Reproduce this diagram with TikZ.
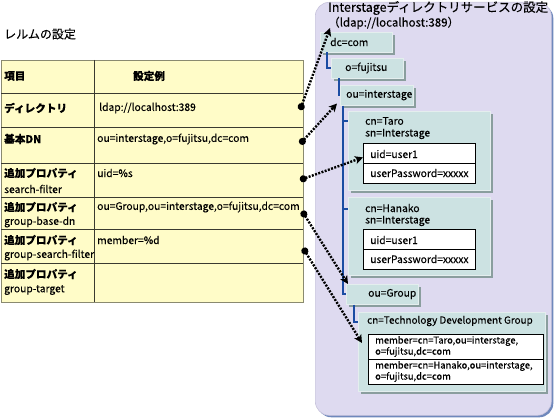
\documentclass[tikz,border=0pt]{standalone}
\usepackage{fontspec}
\setmainfont{Noto Sans CJK JP}[FakeBold=0.25]
\usetikzlibrary{arrows.meta,shadows,calc}
\definecolor{lav}{HTML}{DEDAF0}
\definecolor{lavedge}{HTML}{C8C4DC}
\definecolor{lavshadow}{HTML}{6F88BC}
\definecolor{teal1}{HTML}{CCE2E2}
\definecolor{tealsh}{HTML}{8A9E9E}
\definecolor{tealedge}{HTML}{E4EEEE}
\definecolor{yel}{HTML}{FFFCC8}
\definecolor{tblouter}{HTML}{8A8A70}
\definecolor{tblline}{HTML}{3A3A30}
\definecolor{treeblue}{HTML}{1B4CA3}
\begin{document}
\begin{tikzpicture}[x=1pt,y=-1pt,
  txt/.style={anchor=west,inner sep=0pt,font=\fontsize{10.3}{12}\selectfont},
  stxt/.style={anchor=west,inner sep=0pt,font=\fontsize{9.4}{11}\selectfont},
  btxt/.style={anchor=west,inner sep=0pt,font=\fontsize{10.6}{12}\selectfont\bfseries},
  ttl/.style={anchor=west,inner sep=0pt,font=\fontsize{12.5}{15}\selectfont},
  panel/.style={anchor=north west,inner sep=0pt,fill=lav,draw=lavedge,line width=0.6pt,rounded corners=14pt,
    drop shadow={shadow xshift=2pt,shadow yshift=-2pt,fill=lavshadow,opacity=1}},
  tbox/.style={anchor=north west,inner sep=0pt,fill=teal1,draw=tealedge,line width=0.5pt,
    drop shadow={shadow xshift=2.5pt,shadow yshift=-2.5pt,fill=tealsh,opacity=1}},
  wbox/.style={anchor=north west,inner sep=0pt,fill=white,draw=black,line width=0.8pt},
  tblbox/.style={anchor=north west,inner sep=0pt,fill=yel,draw=tblouter,line width=0.8pt},
  tree/.style={draw=treeblue,line width=2.2pt},
  link/.style={line width=2.4pt,dash pattern=on 2pt off 1.4pt,
    {Circle[length=7pt]}-{Stealth[length=8pt,width=8pt,inset=2pt]}}
]
\useasboundingbox (0,0) rectangle (557,420);

% ---------- left: realm settings ----------
\node[txt,font=\fontsize{12}{14}\selectfont] (realm) at (4,34) {レルムの設定};
\node[tblbox,minimum width=302pt,minimum height=242pt] (tbl) at (1,60) {};
\foreach \yy in {93,127,163,197,229,263}
  \draw[tblline,line width=0.7pt] (1,\yy) -- (303,\yy);
\draw[tblline,line width=0.7pt] (94,60) -- (94,302);

\node[btxt] (h1) at (4,76) {項目};
\node[btxt] (h2) at (133,76) {設定例};
\node[btxt] (r1a) at (4,108) {ディレクトリ};
\node[txt] (r1b) at (99,108) {ldap://localhost:389};
\node[btxt] (r2a) at (4,139) {基本DN};
\node[txt] (r2b) at (97,139) {ou=interstage,o=fujitsu,dc=com};
\node[btxt] (r3a) at (4,173) {追加プロパティ};
\node[txt] (r3c) at (4,189) {search-filter};
\node[txt] (r3b) at (97,173) {uid=\%s};
\node[btxt] (r4a) at (4,207) {追加プロパティ};
\node[txt] (r4c) at (4,222) {group-base-dn};
\node[txt] (r4b) at (97,207) {ou=Group,ou=interstage,o=fujitsu,dc=com};
\node[btxt] (r5a) at (4,240) {追加プロパティ};
\node[txt] (r5c) at (4,255) {group-search-filter};
\node[txt] (r5b) at (97,240) {member=\%d};
\node[btxt] (r6a) at (4,274) {追加プロパティ};
\node[txt] (r6c) at (4,290) {group-target};

% ---------- right: directory service ----------
\node[panel,minimum width=236pt,minimum height=413pt] (panel) at (315,2) {};
\node[ttl] (t1) at (328,8) {Interstageディレクトリサービスの設定};
\node[ttl,font=\fontsize{11.5}{14}\selectfont] (t2) at (328,23) {（ldap://localhost:389）};

\node[tbox,minimum width=72pt,minimum height=20pt] (dc) at (320,32) {};
\node[txt] at (330,42) {dc=com};
\node[tbox,minimum width=72pt,minimum height=20pt] (ofj) at (331,58) {};
\node[txt] at (345,68) {o=fujitsu};
\node[tbox,minimum width=73pt,minimum height=20pt] (oui) at (340,85) {};
\node[txt] at (346,95) {ou=interstage};

\node[tbox,minimum width=142pt,minimum height=79pt] (taro) at (348,111) {};
\node[txt] at (365,121) {cn=Taro};
\node[txt] at (365,134) {sn=Interstage};
\node[wbox,minimum width=112pt,minimum height=40pt] (tw) at (363,143) {};
\draw[line width=0.8pt] (tw.west) -- (tw.east);
\node[txt] at (370,154) {uid=user1};
\node[txt] at (370,173) {userPassword=xxxxx};

\node[tbox,minimum width=142pt,minimum height=78pt] (hanako) at (348,197) {};
\node[txt] at (365,208) {cn=Hanako};
\node[txt] at (365,221) {sn=Interstage};
\node[wbox,minimum width=112pt,minimum height=40pt] (hw) at (363,229) {};
\draw[line width=0.8pt] (hw.west) -- (hw.east);
\node[txt] at (370,240) {uid=user1};
\node[txt] at (370,259) {userPassword=xxxxx};

\node[tbox,minimum width=72pt,minimum height=20pt] (ougroup) at (346,284) {};
\node[txt] at (368,294) {ou=Group};

\node[tbox,minimum width=187pt,minimum height=79pt] (tdg) at (358,312) {};
\node[txt,font=\fontsize{9.9}{12}\selectfont] at (367,321) {cn=Technology Development Group};
\node[wbox,minimum width=175pt,minimum height=50pt] (mw) at (368,334) {};
\draw[line width=0.8pt] (mw.west) -- (mw.east);
\node[stxt] at (375,341) {member=cn=Taro,ou=interstage,};
\node[stxt] at (375,352) {o=fujitsu,dc=com};
\node[stxt] at (375,366) {member=cn=Hanako,ou=interstage,};
\node[stxt] at (375,377) {o=fujitsu,dc=com};

% tree lines
\draw[tree] ([xshift=7pt]dc.south west) |- (ofj.west);
\draw[tree] ([xshift=8pt]ofj.south west) |- (oui.west);
\coordinate (trunk) at ([xshift=3pt]oui.south west);
\draw[tree] (trunk) |- (ougroup.west);
\draw[tree] ([yshift=-10pt]taro.north west -| trunk) -- ([yshift=-10pt]taro.north west);
\draw[tree] ([yshift=-12pt]hanako.north west -| trunk) -- ([yshift=-12pt]hanako.north west);
\draw[tree] ([xshift=8pt]ougroup.south west) |- ([yshift=-10pt]tdg.north west);

% links
\coordinate (s1) at (300,110);
\coordinate (s2) at (300,144);
\coordinate (s3) at (300,180);
\coordinate (s4) at (302,211);
\coordinate (s5) at (303,248);
\draw[link] (s1) -- ([shift={(10pt,4pt)}]dc.north west);
\draw[link] (s2) -- ([shift={(-3pt,2pt)}]oui.south west);
\draw[link] (s3) -- ([yshift=6pt]tw.west);
\draw[link] (s4) -- ([xshift=2pt]ougroup.north west);
\draw[link] (s5) -- ([shift={(-6pt,-9pt)}]mw.north west);
\end{tikzpicture}
\end{document}
